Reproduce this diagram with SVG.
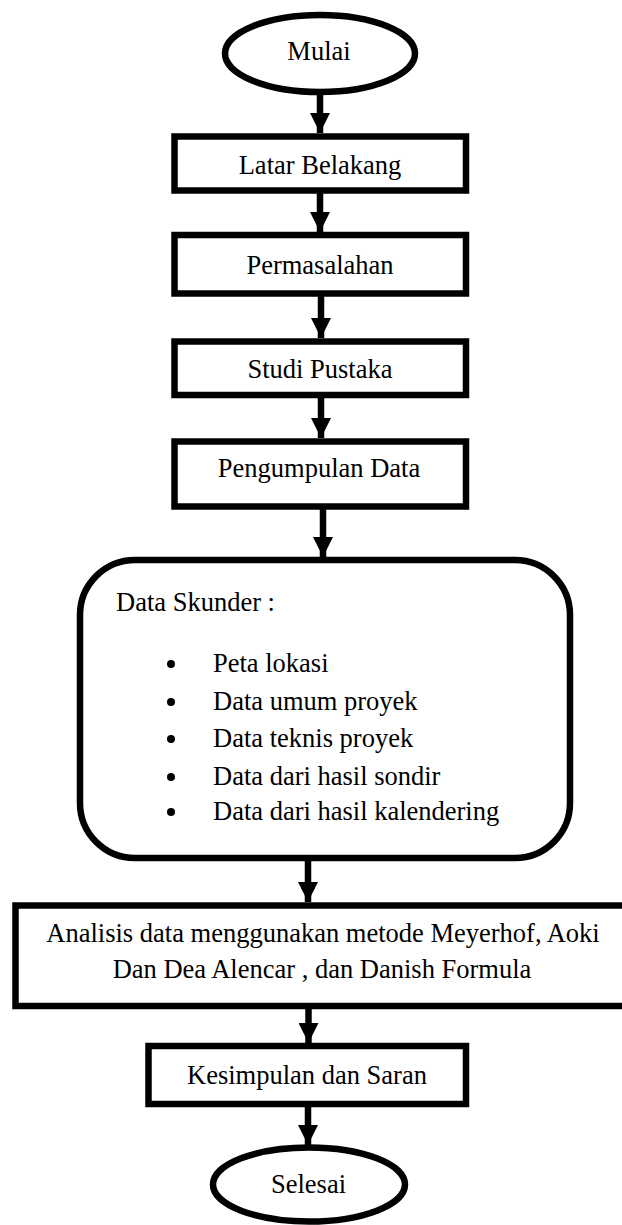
<svg xmlns="http://www.w3.org/2000/svg" width="622" height="1225" viewBox="0 0 622 1225">
<style>
.s{fill:#fff;stroke:#000;stroke-width:6.5}
.t{font-family:'Liberation Serif',Tinos,'Times New Roman',Times,'DejaVu Serif',serif;font-size:26.5px;fill:#000}
.c{text-anchor:middle}
.e{stroke:#000;stroke-width:6.5;fill:none}
</style>
<defs>
<marker id="ah" markerUnits="userSpaceOnUse" markerWidth="20" markerHeight="20" viewBox="0 0 20 20" refX="20" refY="10" orient="auto">
<path d="M0,0 L20,10 L0,20 Z" fill="#000"/>
</marker>
</defs>
<rect width="622" height="1225" fill="#fff"/>
<g id="connectors">
<line class="e" x1="320" y1="92" x2="320" y2="133" marker-end="url(#ah)"/>
<line class="e" x1="320" y1="193" x2="320" y2="232" marker-end="url(#ah)"/>
<line class="e" x1="321" y1="296" x2="321" y2="338" marker-end="url(#ah)"/>
<line class="e" x1="321" y1="398" x2="321" y2="438" marker-end="url(#ah)"/>
<line class="e" x1="323" y1="509" x2="323" y2="557" marker-end="url(#ah)"/>
<line class="e" x1="308" y1="861" x2="308" y2="902" marker-end="url(#ah)"/>
<line class="e" x1="308.5" y1="1009" x2="308.5" y2="1043" marker-end="url(#ah)"/>
<line class="e" x1="308" y1="1107" x2="308" y2="1145" marker-end="url(#ah)"/>
</g>
<g id="mulai">
<ellipse class="s" cx="320" cy="53.5" rx="95" ry="38.5"/>
<text class="t c" x="319" y="60" font-family="Liberation Serif, serif">Mulai</text>
</g>
<g id="latar">
<rect class="s" x="174.5" y="136.5" width="291.5" height="54"/>
<text class="t c" x="320" y="174">Latar Belakang</text>
</g>
<g id="permasalahan">
<rect class="s" x="174.5" y="235" width="291.5" height="58.5"/>
<text class="t c" x="320" y="274">Permasalahan</text>
</g>
<g id="studi">
<rect class="s" x="174.5" y="341.5" width="291.5" height="53.5"/>
<text class="t c" x="320" y="378">Studi Pustaka</text>
</g>
<g id="pengumpulan">
<rect class="s" x="174.5" y="441.5" width="291.5" height="65"/>
<text class="t c" x="319" y="477">Pengumpulan Data</text>
</g>
<g id="data-skunder">
<rect class="s" x="80" y="560" width="490" height="298" rx="55" ry="55"/>
<text class="t" x="116" y="611">Data Skunder :</text>
<circle cx="171" cy="664" r="4"/>
<text class="t" x="213" y="672">Peta lokasi</text>
<circle cx="171" cy="702" r="4"/>
<text class="t" x="213" y="710">Data umum proyek</text>
<circle cx="171" cy="739" r="4"/>
<text class="t" x="213" y="747">Data teknis proyek</text>
<circle cx="171" cy="777" r="4"/>
<text class="t" x="213" y="785">Data dari hasil sondir</text>
<circle cx="171" cy="812" r="4"/>
<text class="t" x="213" y="820">Data dari hasil kalendering</text>
</g>
<g id="analisis">
<rect class="s" x="15.5" y="905.5" width="630" height="100.5"/>
<text class="t c" x="323" y="942">Analisis data menggunakan metode Meyerhof, Aoki</text>
<text class="t c" x="322" y="978">Dan Dea Alencar , dan Danish Formula</text>
</g>
<g id="kesimpulan">
<rect class="s" x="148.5" y="1046" width="317.5" height="58"/>
<text class="t c" x="307" y="1084">Kesimpulan dan Saran</text>
</g>
<g id="selesai">
<ellipse class="s" cx="309" cy="1184.5" rx="96" ry="37"/>
<text class="t c" x="308.5" y="1193">Selesai</text>
</g>
</svg>
